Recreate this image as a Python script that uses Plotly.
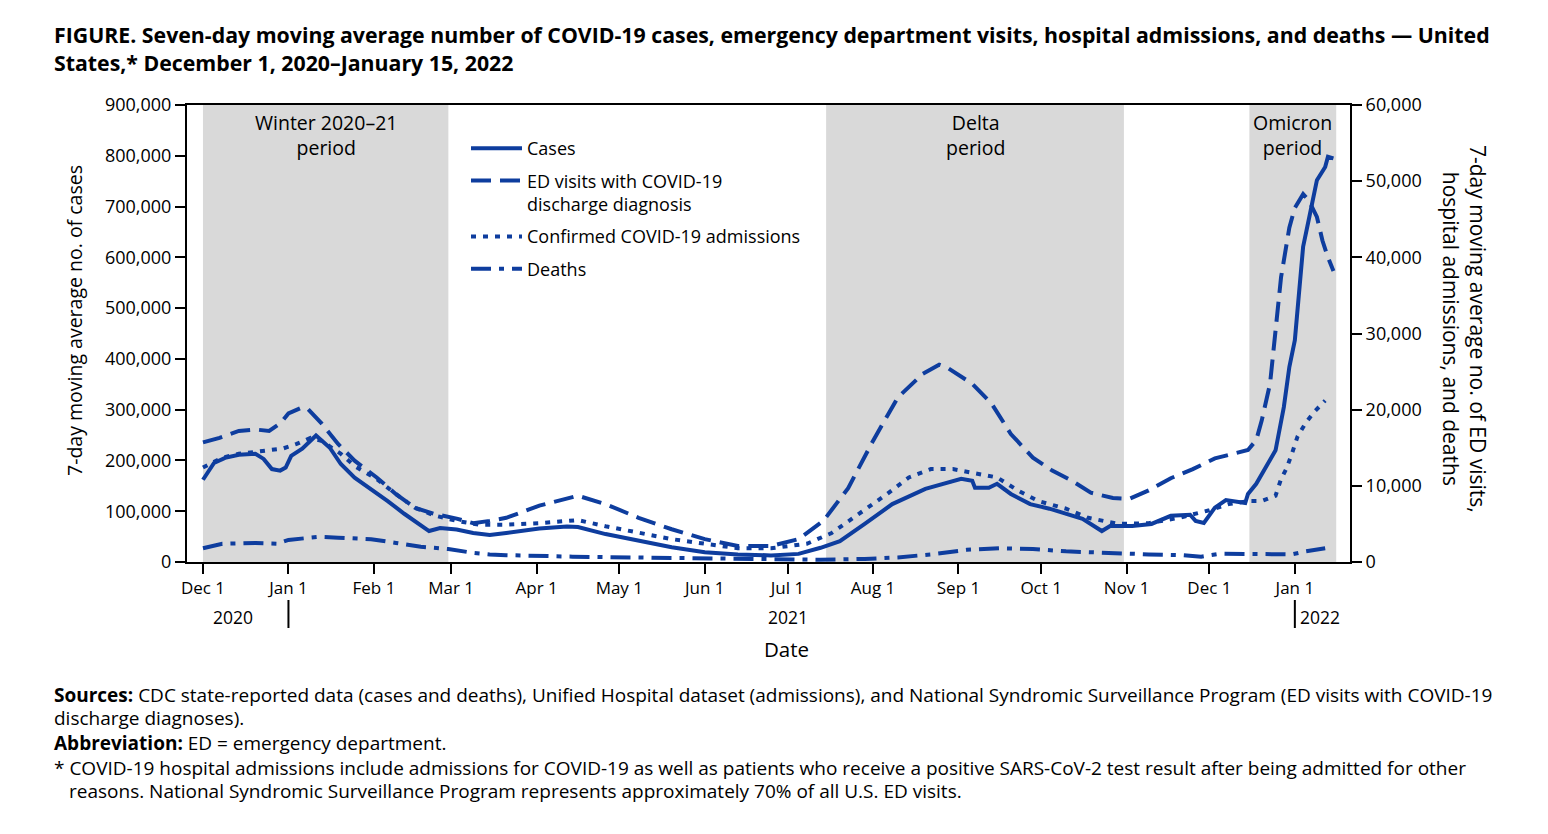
import plotly.graph_objects as go
import pandas as pd

# ---------------- data ----------------
case_dates = ["2020-12-01", "2020-12-05", "2020-12-09", "2020-12-14", "2020-12-20", "2020-12-23",
              "2020-12-26", "2020-12-29", "2020-12-31", "2021-01-02", "2021-01-06", "2021-01-11",
              "2021-01-16", "2021-01-20", "2021-01-25", "2021-01-31", "2021-02-06", "2021-02-12",
              "2021-02-18", "2021-02-21", "2021-02-25", "2021-03-03", "2021-03-09", "2021-03-15",
              "2021-03-21", "2021-04-02", "2021-04-12", "2021-04-16", "2021-04-26", "2021-05-08",
              "2021-05-20", "2021-06-01", "2021-06-13", "2021-06-25", "2021-07-05", "2021-07-13",
              "2021-07-20", "2021-07-29", "2021-08-08", "2021-08-20", "2021-08-28", "2021-09-02",
              "2021-09-06", "2021-09-07", "2021-09-12", "2021-09-15", "2021-09-20", "2021-09-27",
              "2021-10-04", "2021-10-16", "2021-10-23", "2021-10-26", "2021-11-03", "2021-11-10",
              "2021-11-17", "2021-11-24", "2021-11-26", "2021-11-29", "2021-12-03", "2021-12-07",
              "2021-12-14", "2021-12-15", "2021-12-18", "2021-12-23", "2021-12-25", "2021-12-28",
              "2021-12-30", "2022-01-01", "2022-01-02", "2022-01-03", "2022-01-04", "2022-01-06",
              "2022-01-07", "2022-01-09", "2022-01-12", "2022-01-13", "2022-01-15"]
case_values = [162000, 195000, 205000, 211000, 213000, 203000,
               183000, 180000, 186000, 209000, 223000, 249000,
               225000, 193000, 166000, 144000, 120000, 95000,
               71000, 61000, 67000, 64000, 57000, 53000,
               57000, 66000, 70000, 69000, 55000, 42000,
               29000, 19000, 15000, 13000, 16000, 28000,
               41000, 75000, 114000, 144000, 156000, 164000,
               160000, 146000, 146000, 154000, 134000, 114000,
               105000, 85000, 61000, 71000, 71000, 75000,
               91000, 93000, 81000, 77000, 107000, 122000,
               116000, 134000, 154000, 200000, 220000, 305000,
               384000, 437000, 502000, 568000, 621000, 673000,
               700000, 752000, 778000, 798000, 795000]

ed_dates = ["2020-12-01", "2020-12-07", "2020-12-14", "2020-12-20", "2020-12-25", "2020-12-29",
            "2021-01-01", "2021-01-06", "2021-01-08", "2021-01-13", "2021-01-19", "2021-01-25",
            "2021-02-02", "2021-02-09", "2021-02-16", "2021-02-23", "2021-03-03", "2021-03-09",
            "2021-03-15", "2021-03-21", "2021-04-02", "2021-04-16", "2021-04-26", "2021-05-08",
            "2021-05-20", "2021-06-01", "2021-06-13", "2021-06-25", "2021-07-05", "2021-07-14",
            "2021-07-23", "2021-08-01", "2021-08-10", "2021-08-19", "2021-08-25", "2021-08-28",
            "2021-09-06", "2021-09-13", "2021-09-20", "2021-09-28", "2021-10-05", "2021-10-12",
            "2021-10-19", "2021-10-27", "2021-11-02", "2021-11-09", "2021-11-17", "2021-11-25",
            "2021-12-03", "2021-12-11", "2021-12-15", "2021-12-18", "2021-12-20", "2021-12-23",
            "2021-12-25", "2021-12-27", "2021-12-30", "2022-01-01", "2022-01-04", "2022-01-06",
            "2022-01-09", "2022-01-11", "2022-01-13", "2022-01-15"]
ed_values = [15700, 16300, 17200, 17400, 17200, 18200,
             19500, 20300, 20100, 18200, 15500, 13300,
             11100, 8900, 7100, 6300, 5700, 5100,
             5400, 5800, 7400, 8700, 7600, 5800,
             4300, 3000, 2100, 2100, 3000, 5400,
             9700, 15900, 21600, 24700, 25900, 25500,
             23400, 20800, 16800, 13700, 12000, 10700,
             9100, 8400, 8300, 9400, 11000, 12200,
             13600, 14300, 14700, 16000, 18600, 23400,
             30000, 37400, 43900, 46500, 48300, 47500,
             45300, 42200, 40000, 38200]

adm_dates = ["2020-12-01", "2020-12-08", "2020-12-14", "2020-12-24", "2020-12-30", "2021-01-04",
             "2021-01-09", "2021-01-13", "2021-01-20", "2021-01-25", "2021-02-02", "2021-02-09",
             "2021-02-16", "2021-02-23", "2021-03-03", "2021-03-11", "2021-03-21", "2021-04-02",
             "2021-04-16", "2021-04-26", "2021-05-08", "2021-05-20", "2021-06-01", "2021-06-13",
             "2021-06-25", "2021-07-08", "2021-07-17", "2021-07-27", "2021-08-06", "2021-08-14",
             "2021-08-22", "2021-08-30", "2021-09-06", "2021-09-15", "2021-09-23", "2021-09-30",
             "2021-10-10", "2021-10-18", "2021-10-29", "2021-11-09", "2021-11-20", "2021-12-01",
             "2021-12-08", "2021-12-15", "2021-12-20", "2021-12-25", "2021-12-27", "2021-12-29",
             "2021-12-31", "2022-01-02", "2022-01-05", "2022-01-08", "2022-01-12"]
adm_values = [12400, 13700, 14200, 14700, 14900, 15500,
              16300, 15900, 14200, 12600, 10900, 8900,
              7100, 6100, 5400, 4900, 4900, 5100,
              5500, 4700, 3800, 3000, 2400, 1800,
              1800, 2400, 3800, 6300, 8900, 11100,
              12200, 12200, 11700, 11100, 9300, 8000,
              7000, 5800, 5000, 5100, 5800, 6800,
              7600, 8000, 8000, 8700, 10900, 12300,
              14300, 16500, 18300, 19700, 21200]

death_dates = ["2020-12-01", "2020-12-08", "2020-12-20", "2020-12-28", "2021-01-01", "2021-01-12",
               "2021-01-19", "2021-01-31", "2021-02-09", "2021-02-18", "2021-02-28", "2021-03-09",
               "2021-03-15", "2021-03-21", "2021-04-14", "2021-05-08", "2021-06-01", "2021-06-25",
               "2021-07-13", "2021-07-29", "2021-08-10", "2021-08-22", "2021-09-04", "2021-09-16",
               "2021-09-28", "2021-10-10", "2021-10-22", "2021-11-03", "2021-11-09", "2021-11-21",
               "2021-11-28", "2021-12-05", "2021-12-22", "2021-12-31", "2022-01-05", "2022-01-12"]
death_values = [1800, 2400, 2500, 2400, 2900, 3300,
                3200, 3000, 2500, 2000, 1700, 1200,
                1000, 900, 700, 600, 400, 300,
                300, 400, 600, 1000, 1600, 1800,
                1700, 1400, 1200, 1100, 1000, 900,
                700, 1100, 1100, 1000, 1400, 1800]

period_labels = ["Winter 2020–21<br>period", "Delta<br>period", "Omicron<br>period"]
period_starts = ["2020-12-01", "2021-07-15", "2021-12-15 12:00"]
period_ends = ["2021-02-28", "2021-10-31", "2022-01-16"]

year_labels = ["2020", "2021", "2022"]
year_breaks = ["2021-01-01", "2022-01-01"]

series_names = ["Cases", "ED visits with COVID-19<br>discharge diagnosis",
                "Confirmed COVID-19 admissions", "Deaths"]

# ---------------- layout geometry ----------------
W, H = 1548, 834
L, R, T, B = 187, 198, 105, 272
PW, PH = W - L - R, H - T - B
BLUE = "#0e3d9e"
SHADE = "#d9d9d9"
FONT = "Open Sans"


def px(xp):
    return (xp - L) / PW


def py(yp):
    return (T + PH - yp) / PH


fig = go.Figure()

fig.add_trace(go.Scatter(x=case_dates, y=case_values, name=series_names[0], mode="lines",
                         line=dict(color=BLUE, width=4), legendgroup="a"))
fig.add_trace(go.Scatter(x=ed_dates, y=ed_values, name=series_names[1], mode="lines", yaxis="y2",
                         line=dict(color=BLUE, width=4, dash="20px,9px"), legendgroup="b"))
fig.add_trace(go.Scatter(x=adm_dates, y=adm_values, name=series_names[2], mode="lines", yaxis="y2",
                         line=dict(color=BLUE, width=4, dash="5px,7px"), legendgroup="c"))
fig.add_trace(go.Scatter(x=death_dates, y=death_values, name=series_names[3], mode="lines", yaxis="y2",
                         line=dict(color=BLUE, width=4, dash="20px,8px,5px,8px"), legendgroup="d"))

shapes = []
annotations = []
for lab, s, e in zip(period_labels, period_starts, period_ends):
    shapes.append(dict(type="rect", xref="x", yref="paper", x0=s, x1=e, y0=0, y1=1,
                       fillcolor=SHADE, line=dict(width=0), layer="below"))
    mid = pd.Timestamp(s) + (pd.Timestamp(e) - pd.Timestamp(s)) / 2
    annotations.append(dict(x=mid, xref="x", y=py(107), yref="paper", text=lab, showarrow=False,
                            xanchor="center", yanchor="top", font=dict(size=19.5, color="black")))

for d in year_breaks:
    shapes.append(dict(type="line", xref="x", yref="paper", x0=d, x1=d, y0=py(600), y1=py(628),
                       line=dict(color="black", width=2)))

year_pos = ["2020-12-12", "2021-07-01", "2022-01-10"]
for lab, d in zip(year_labels, year_pos):
    annotations.append(dict(x=d, xref="x", y=py(617), yref="paper", text=lab, showarrow=False,
                            xanchor="center", yanchor="middle", font=dict(size=17.5, color="black")))

annotations.append(dict(x=px(786), xref="paper", y=py(649), yref="paper", text="Date", showarrow=False,
                        xanchor="center", yanchor="middle", font=dict(size=20.5, color="black")))
annotations.append(dict(x=px(74), xref="paper", y=py(321), yref="paper",
                        text="7-day moving average no. of cases", textangle=-90, showarrow=False,
                        xanchor="center", yanchor="middle", font=dict(size=19.5, color="black")))
annotations.append(dict(x=px(1465), xref="paper", y=py(329), yref="paper",
                        text="7-day moving average no. of ED visits,<br>hospital admissions, and deaths",
                        textangle=90, showarrow=False, xanchor="center", yanchor="middle",
                        font=dict(size=21, color="black")))

annotations.append(dict(x=px(52), xref="paper", y=py(48), yref="paper",
                        text="<b>FIGURE. Seven-day moving average number of COVID-19 cases, emergency department visits, "
                             "hospital admissions, and deaths — United<br>States,* December 1, 2020–January 15, 2022</b>",
                        showarrow=False, xanchor="left", yanchor="middle", align="left",
                        font=dict(size=21.3, color="black")))

foot = [
    (695, 52, "<b>Sources:</b> CDC state-reported data (cases and deaths), Unified Hospital dataset (admissions), "
              "and National Syndromic Surveillance Program (ED visits with COVID-19"),
    (718, 52, "discharge diagnoses)."),
    (743, 52, "<b>Abbreviation:</b> ED = emergency department."),
    (768, 52, "* COVID-19 hospital admissions include admissions for COVID-19 as well as patients who receive "
              "a positive SARS-CoV-2 test result after being admitted for other"),
    (791, 67, "reasons. National Syndromic Surveillance Program represents approximately 70% of all U.S. ED visits."),
]
for yy, xx, txt in foot:
    annotations.append(dict(x=px(xx), xref="paper", y=py(yy), yref="paper", text=txt, showarrow=False,
                            xanchor="left", yanchor="middle", align="left",
                            font=dict(size=19, color="black")))

axis_common = dict(showline=True, linewidth=2, linecolor="black", ticks="outside", ticklen=10,
                   tickwidth=2, tickcolor="black", showgrid=False, zeroline=False)

fig.update_layout(
    width=W, height=H,
    margin=dict(l=L, r=R, t=T, b=B, autoexpand=False),
    paper_bgcolor="white", plot_bgcolor="white",
    font=dict(family=FONT, color="black"),
    xaxis=dict(type="date", range=["2020-11-25 05:00", "2022-01-21"], tick0="2020-12-01", dtick="M1",
               tickformat="%b %-d", mirror=True, tickfont=dict(size=17, color="black"), **axis_common),
    yaxis=dict(range=[0, 900000], dtick=100000, tickformat=",d",
               tickfont=dict(size=18, color="black"), **axis_common),
    yaxis2=dict(range=[0, 60000], dtick=10000, tickformat=",d", overlaying="y", side="right",
                tickfont=dict(size=18, color="black"), **axis_common),
    legend=dict(x=px(466), y=py(130), xanchor="left", yanchor="top", bgcolor="rgba(0,0,0,0)",
                font=dict(size=18, color="black"), itemwidth=51, valign="top", tracegroupgap=6),
    shapes=shapes,
    annotations=annotations,
    showlegend=True,
)

fig.write_html("out.html")
